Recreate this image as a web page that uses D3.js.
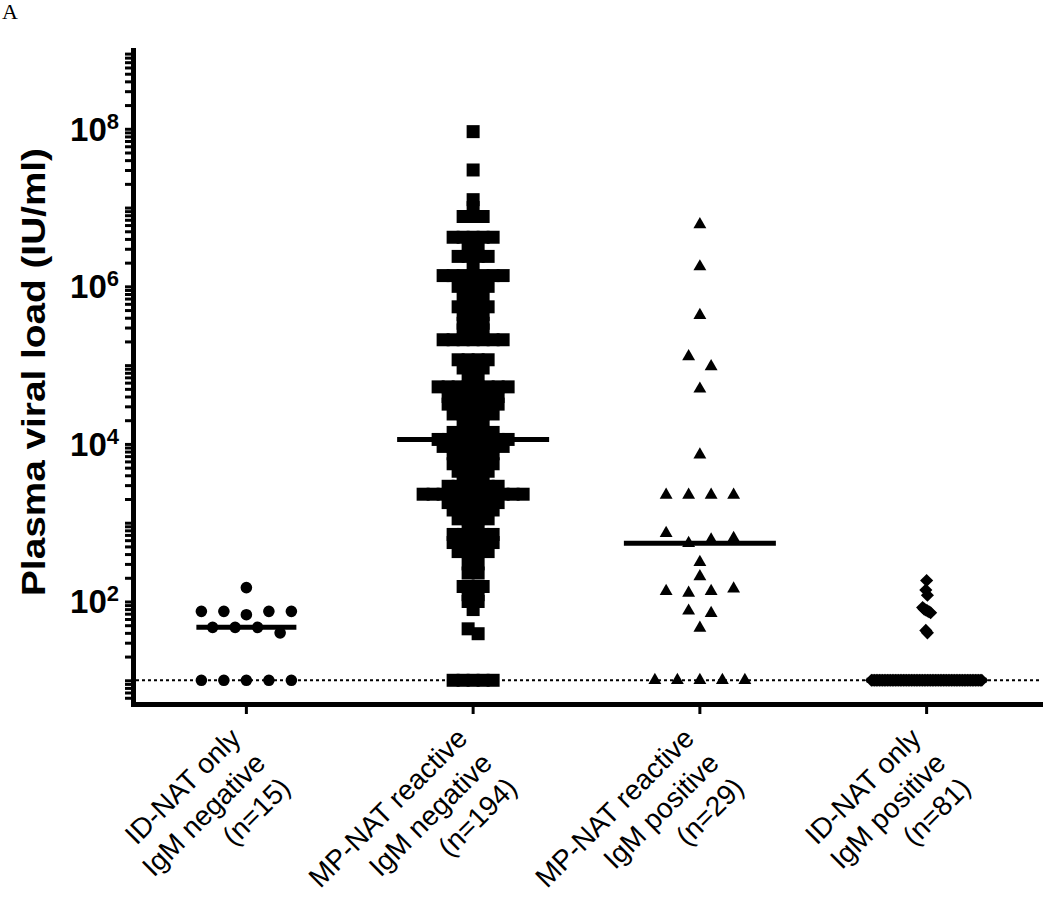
<!DOCTYPE html>
<html>
<head>
<meta charset="utf-8">
<script src="https://cdn.jsdelivr.net/npm/d3@7"></script>
<style>
  body { margin: 0; background: #ffffff; }
  svg { display: block; }
</style>
</head>
<body>
<svg id="chart" width="1050" height="921"></svg>
<script>
// ---------------- data ----------------
const panelLetter = "A";
const yAxisTitle = "Plasma viral load (IU/ml)";
const categories = ["ID-NAT only IgM negative", "MP-NAT reactive IgM negative", "MP-NAT reactive IgM positive", "ID-NAT only IgM positive"];
const categoryLabelLines = [
  ["ID-NAT only", "IgM negative", "(n=15)"],
  ["MP-NAT reactive", "IgM negative", "(n=194)"],
  ["MP-NAT reactive", "IgM positive", "(n=29)"],
  ["ID-NAT only", "IgM positive", "(n=81)"]
];
const yDomain = [5, 1e9];
const yMajorTicks = [1e2, 1e4, 1e6, 1e8];
const yTickExponents = ["2", "4", "6", "8"];
const detectionLimit = 10;

// viral loads (IU/ml), listed top to bottom as they appear in each column
const idNatOnlyIgmNegative = [150, 75, 75, 68, 75, 75, 47, 47, 47, 40, 10, 10, 10, 10, 10];

const mpNatReactiveIgmNegative = [
  9.2e7, 3.0e7, 1.26e7, 1.0e7,
  7.7e6, 7.7e6, 7.7e6,
  4.2e6, 4.2e6, 4.2e6, 4.2e6, 4.2e6,
  3.0e6, 3.0e6,
  2.4e6, 2.4e6, 2.4e6, 2.4e6,
  1.7e6,
  1.37e6, 1.37e6, 1.37e6, 1.37e6, 1.37e6, 1.37e6, 1.37e6,
  1.0e6, 1.0e6, 1.0e6, 1.0e6,
  7.3e5, 7.3e5, 7.3e5,
  5.5e5, 5.5e5, 5.5e5, 5.5e5,
  4.4e5, 4.4e5, 4.4e5,
  3.4e5, 3.4e5, 3.4e5,
  2.8e5, 2.8e5, 2.8e5,
  2.1e5, 2.1e5, 2.1e5, 2.1e5, 2.1e5, 2.1e5, 2.1e5,
  1.17e5, 1.17e5, 1.17e5, 1.17e5,
  9.2e4, 9.2e4, 9.2e4,
  7.6e4, 7.6e4,
  5.3e4, 5.3e4, 5.3e4, 5.3e4, 5.3e4, 5.3e4, 5.3e4, 5.3e4,
  4.0e4, 4.0e4, 4.0e4, 4.0e4, 4.0e4, 4.0e4,
  3.2e4, 3.2e4, 3.2e4, 3.2e4, 3.2e4, 3.2e4,
  2.4e4, 2.4e4, 2.4e4, 2.4e4, 2.4e4,
  1.9e4, 1.9e4, 1.9e4,
  1.4e4, 1.4e4, 1.4e4, 1.4e4, 1.4e4,
  1.14e4, 1.14e4, 1.14e4, 1.14e4, 1.14e4, 1.14e4, 1.14e4, 1.14e4,
  9.3e3, 9.3e3, 9.3e3, 9.3e3, 9.3e3, 9.3e3, 9.3e3,
  7.5e3, 7.5e3, 7.5e3, 7.5e3, 7.5e3,
  5.6e3, 5.6e3, 5.6e3, 5.6e3, 5.6e3,
  4.5e3, 4.5e3, 4.5e3, 4.5e3,
  3.5e3, 3.5e3, 3.5e3,
  2.9e3, 2.9e3, 2.9e3, 2.9e3, 2.9e3, 2.9e3,
  2.3e3, 2.3e3, 2.3e3, 2.3e3, 2.3e3, 2.3e3, 2.3e3, 2.3e3, 2.3e3, 2.3e3, 2.3e3,
  1.8e3, 1.8e3, 1.8e3, 1.8e3, 1.8e3, 1.8e3,
  1.45e3, 1.45e3, 1.45e3, 1.45e3, 1.45e3,
  1.12e3, 1.12e3, 1.12e3, 1.12e3,
  890, 890,
  710, 710, 710, 710, 710,
  560, 560, 560, 560, 560,
  430, 430, 430, 430,
  300, 300,
  230, 230,
  155, 155, 155,
  122, 122,
  100, 100,
  79,
  45, 39,
  10, 10, 10, 10, 10
];

const mpNatReactiveIgmPositive = [
  6.1e6, 1.78e6, 4.3e5, 1.29e5, 9.6e4, 5.0e4, 7.3e3,
  2250, 2250, 2250, 2250,
  735, 550, 607, 635,
  315, 208,
  135, 128, 135, 145,
  76, 71,
  46,
  10, 10, 10, 10, 10
];

const idNatOnlyIgmPositive = [
  185, 140, 120,
  84, 80, 78, 76, 74, 72,
  43, 40,
  10, 10, 10, 10, 10, 10, 10, 10, 10, 10,
  10, 10, 10, 10, 10, 10, 10, 10, 10, 10,
  10, 10, 10, 10, 10, 10, 10, 10, 10, 10,
  10, 10, 10, 10, 10, 10, 10, 10, 10, 10,
  10, 10, 10, 10, 10, 10, 10, 10, 10, 10,
  10, 10, 10, 10, 10, 10, 10, 10, 10, 10,
  10, 10, 10, 10, 10, 10, 10, 10, 10, 10
];

const seriesValues = [idNatOnlyIgmNegative, mpNatReactiveIgmNegative, mpNatReactiveIgmPositive, idNatOnlyIgmPositive];

// ---------------- drawing ----------------
const svg = d3.select("#chart");
const FONT = "'Liberation Sans', Arial, Helvetica, sans-serif";

const y = d3.scaleLog().domain(yDomain).range([704, 50]);
const x = d3.scaleBand().domain(categories).range([133, 1040]).paddingInner(0).paddingOuter(0);

// marker styles per group
const groupStyle = [
  { type: d3.symbolCircle,   size: 106, rotate: 0,  step: 22.5, tol: 11,  half: 50 },
  { type: d3.symbolSquare,   size: 169, rotate: 0,  step: 10,   tol: 5.5, half: 76 },
  { type: d3.symbolTriangle, size: 72,  rotate: 0,  step: 22.5, tol: 11,  half: 76 },
  { type: d3.symbolSquare,   size: 86,  rotate: 45, step: 1.6,  tol: 6,   half: 60 }
];

// row-based column scatter layout (points close in y share a centred row)
function layoutRows(values, tol, step) {
  const out = [];
  let row = [], startY = null;
  const flush = () => {
    row.forEach((p, i) => { p.off = (i - (row.length - 1) / 2) * step; out.push(p); });
    row = [];
  };
  values.forEach(v => {
    const py = y(v);
    if (startY === null || Math.abs(py - startY) >= tol) { flush(); startY = py; }
    row.push({ v, py });
  });
  flush();
  return out;
}

// detection-limit dotted line
svg.append("line")
  .attr("x1", 136).attr("x2", 1040)
  .attr("y1", y(detectionLimit)).attr("y2", y(detectionLimit))
  .attr("stroke", "#000").attr("stroke-width", 2)
  .attr("stroke-dasharray", "3,3");

// points
seriesValues.forEach((vals, gi) => {
  const st = groupStyle[gi];
  const cx = x(categories[gi]) + x.bandwidth() / 2;
  const pts = layoutRows(vals, st.tol, st.step);
  const sym = d3.symbol().type(st.type).size(st.size);
  svg.append("g").selectAll("path").data(pts).join("path")
    .attr("d", sym)
    .attr("transform", d => `translate(${cx + d.off},${d.py}) rotate(${st.rotate})`)
    .attr("fill", "#000");
});

// medians
seriesValues.forEach((vals, gi) => {
  const st = groupStyle[gi];
  const cx = x(categories[gi]) + x.bandwidth() / 2;
  const m = d3.median(vals);
  svg.append("line")
    .attr("x1", cx - st.half).attr("x2", cx + st.half)
    .attr("y1", y(m)).attr("y2", y(m))
    .attr("stroke", "#000").attr("stroke-width", 5);
});

// y axis with log minor ticks
const allTicks = [];
for (let k = 0; k <= 8; k++) for (let m = 1; m <= 9; m++) {
  const v = m * Math.pow(10, k);
  if (v > yDomain[0] && v <= yDomain[1]) allTicks.push(v);
}
const yAxis = svg.append("g").attr("transform", "translate(133,0)")
  .call(d3.axisLeft(y).tickValues(allTicks).tickSize(8).tickSizeOuter(0).tickFormat(""));
yAxis.select(".domain").attr("stroke-width", 5).attr("stroke-linecap", "square");
yAxis.selectAll(".tick line").attr("stroke-width", 3);

// x axis
const xAxis = svg.append("g").attr("transform", "translate(0,704)")
  .call(d3.axisBottom(x).tickSize(10).tickSizeOuter(0).tickFormat(""));
xAxis.select(".domain").attr("stroke-width", 5).attr("stroke-linecap", "square");
xAxis.selectAll(".tick line").attr("stroke-width", 3);

// y tick labels 10^n
yMajorTicks.forEach((v, i) => {
  const t = svg.append("text")
    .attr("x", 119).attr("y", y(v) + 12)
    .attr("text-anchor", "end")
    .attr("font-family", FONT).attr("font-weight", "bold")
    .attr("font-size", 33).attr("fill", "#000");
  t.append("tspan").text("10");
  t.append("tspan").attr("font-size", 22).attr("dy", -12).text(yTickExponents[i]);
});

// y axis title
svg.append("text")
  .attr("transform", "translate(45,372) rotate(-90)")
  .attr("text-anchor", "middle")
  .attr("font-family", FONT).attr("font-weight", "bold")
  .attr("font-size", 33)
  .attr("textLength", 448).attr("lengthAdjust", "spacingAndGlyphs")
  .attr("fill", "#000")
  .text(yAxisTitle);

// category labels (angled 45 degrees, multi-line, right-aligned)
categoryLabelLines.forEach((lines, i) => {
  const cx = x(categories[i]) + x.bandwidth() / 2;
  const g = svg.append("g").attr("transform", `translate(${cx - 4},740) rotate(-45)`);
  lines.forEach((t, j) => {
    g.append("text")
      .attr("x", 0).attr("y", j * 35)
      .attr("text-anchor", "end")
      .attr("font-family", FONT)
      .attr("font-size", 28).attr("fill", "#000")
      .text(t);
  });
});

// panel letter
svg.append("text")
  .attr("x", 2).attr("y", 19)
  .attr("font-family", "'Liberation Serif', 'Times New Roman', serif")
  .attr("font-size", 22).attr("fill", "#000")
  .text(panelLetter);
</script>
</body>
</html>
